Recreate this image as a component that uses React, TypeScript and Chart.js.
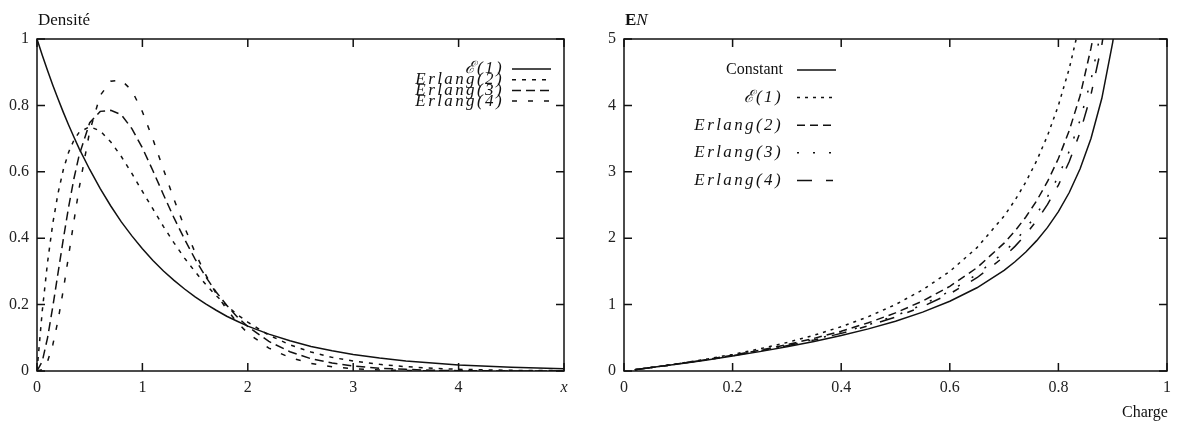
import React, { useEffect, useRef } from 'react';
import { Chart, registerables } from 'chart.js';

Chart.register(...registerables);

// ---------- Left panel: densities ----------
const densityX = [0, 0.05, 0.1, 0.15, 0.2, 0.25, 0.3, 0.35, 0.4, 0.5, 0.6, 0.7, 0.8, 0.9, 1.0, 1.1, 1.2, 1.3, 1.4, 1.5, 1.6, 1.7, 1.8, 1.9, 2.0, 2.2, 2.4, 2.6, 2.8, 3.0, 3.25, 3.5, 3.75, 4.0, 4.5, 5.0];
const densityExp = [1, 0.951, 0.905, 0.861, 0.819, 0.779, 0.741, 0.705, 0.67, 0.607, 0.549, 0.497, 0.449, 0.407, 0.368, 0.333, 0.301, 0.273, 0.247, 0.223, 0.202, 0.183, 0.165, 0.15, 0.135, 0.111, 0.091, 0.074, 0.061, 0.05, 0.039, 0.03, 0.024, 0.018, 0.011, 0.007];
const densityErlang2 = [0, 0.181, 0.327, 0.445, 0.536, 0.607, 0.659, 0.695, 0.719, 0.736, 0.723, 0.69, 0.646, 0.595, 0.541, 0.488, 0.435, 0.386, 0.34, 0.299, 0.261, 0.227, 0.197, 0.17, 0.147, 0.108, 0.079, 0.057, 0.041, 0.03, 0.02, 0.013, 0.008, 0.005, 0.002, 0.001];
const densityErlang3 = [0, 0.029, 0.1, 0.194, 0.296, 0.398, 0.494, 0.579, 0.65, 0.748, 0.782, 0.785, 0.772, 0.73, 0.672, 0.603, 0.531, 0.461, 0.397, 0.337, 0.284, 0.238, 0.198, 0.163, 0.134, 0.089, 0.058, 0.037, 0.024, 0.015, 0.008, 0.005, 0.002, 0.001, 0, 0];
const densityErlang4 = [0, 0.004, 0.029, 0.079, 0.153, 0.245, 0.347, 0.451, 0.551, 0.722, 0.83, 0.873, 0.876, 0.845, 0.781, 0.698, 0.607, 0.517, 0.433, 0.357, 0.29, 0.233, 0.186, 0.146, 0.114, 0.069, 0.04, 0.023, 0.013, 0.007, 0.003, 0.0015, 0.0007, 0.0003, 0, 0];
const densityLabels = ['ℰ(1)', 'Erlang(2)', 'Erlang(3)', 'Erlang(4)'];

// ---------- Right panel: mean number in system vs load ----------
const loadX = [0.02, 0.05, 0.1, 0.15, 0.2, 0.25, 0.3, 0.35, 0.4, 0.45, 0.5, 0.55, 0.6, 0.65, 0.7, 0.72, 0.74, 0.76, 0.78, 0.8, 0.82, 0.84, 0.86, 0.88, 0.9, 0.91];
const enConstant = [0.0202, 0.0513, 0.1056, 0.1632, 0.225, 0.2917, 0.3643, 0.4442, 0.5333, 0.6341, 0.75, 0.8861, 1.05, 1.2536, 1.5167, 1.6457, 1.7931, 1.9633, 2.1627, 2.4, 2.6878, 3.045, 3.5014, 4.1067, 4.95, 5.51];
const enExp = [0.0204, 0.0526, 0.1111, 0.1765, 0.25, 0.3333, 0.4286, 0.5385, 0.6667, 0.8182, 1.0, 1.2222, 1.5, 1.8571, 2.3333, 2.5714, 2.8462, 3.1667, 3.5455, 4.0, 4.5556, 5.25, null, null, null, null];
const enErlang2 = [0.0203, 0.052, 0.1083, 0.1699, 0.2375, 0.3125, 0.3964, 0.4913, 0.6, 0.7261, 0.875, 1.0542, 1.275, 1.5554, 1.925, 2.1086, 2.3196, 2.565, 2.8541, 3.2, 3.6217, 4.1475, 4.8621, 5.72, null, null];
const enErlang3 = [0.0203, 0.0518, 0.1074, 0.1676, 0.2333, 0.3056, 0.3857, 0.4756, 0.5778, 0.6955, 0.8333, 0.9981, 1.2, 1.4548, 1.7889, 1.9543, 2.1441, 2.3644, 2.6236, 2.9333, 3.3104, 3.78, 4.3819, 5.1822, null, null];
const enErlang4 = [0.0203, 0.0516, 0.1069, 0.1665, 0.2313, 0.3021, 0.3804, 0.4678, 0.5667, 0.6801, 0.8125, 0.9701, 1.1625, 1.4045, 1.7208, 1.8771, 2.0563, 2.2642, 2.5084, 2.8, 3.1547, 3.5963, 4.1618, 4.9133, 5.9625, null];
const enLabels = ['Constant', 'ℰ(1)', 'Erlang(2)', 'Erlang(3)', 'Erlang(4)'];

const FONT = "'Liberation Serif', 'DejaVu Serif', serif";
const INK = '#111';

const fmt = (v: number) => String(Math.round(v * 10) / 10);

const framePlugin = {
  id: 'frame',
  afterDatasetsDraw(chart: any, _args: any, o: any) {
    const { ctx, chartArea: a, scales } = chart;
    ctx.save();
    ctx.strokeStyle = INK;
    ctx.lineWidth = 1.5;
    ctx.setLineDash([]);
    ctx.strokeRect(a.left, a.top, a.right - a.left, a.bottom - a.top);
    const L = 8;
    ctx.beginPath();
    scales.x.ticks.forEach((t: any) => {
      const p = scales.x.getPixelForValue(t.value);
      ctx.moveTo(p, a.bottom); ctx.lineTo(p, a.bottom - L);
      ctx.moveTo(p, a.top); ctx.lineTo(p, a.top + L);
    });
    scales.y.ticks.forEach((t: any) => {
      const p = scales.y.getPixelForValue(t.value);
      ctx.moveTo(a.left, p); ctx.lineTo(a.left + L, p);
      ctx.moveTo(a.right, p); ctx.lineTo(a.right - L, p);
    });
    ctx.stroke();

    // legend (text right-aligned, line sample after it)
    const lg = o.legend;
    chart.data.datasets.forEach((ds: any, i: number) => {
      const y = lg.y0 + i * lg.dy;
      const italic = ds.label !== 'Constant';
      ctx.fillStyle = INK;
      ctx.font = `${italic ? 'italic ' : ''}${italic ? lg.size : lg.size - 1}px ${FONT}`;
      (ctx as any).letterSpacing = italic ? lg.spacing + 'px' : '0px';
      ctx.textAlign = 'right';
      ctx.textBaseline = 'middle';
      ctx.fillText(ds.label, lg.textRight, y);
      (ctx as any).letterSpacing = '0px';
      ctx.beginPath();
      ctx.setLineDash(ds.borderDash || []);
      ctx.lineWidth = 1.5;
      ctx.moveTo(lg.textRight + lg.gap, y);
      ctx.lineTo(lg.textRight + lg.gap + lg.lineW, y);
      ctx.stroke();
    });
    ctx.setLineDash([]);

    // titles
    (o.titles || []).forEach((t: any) => {
      let x = t.x;
      t.parts.forEach((p: any) => {
        ctx.font = `${p.style || ''} ${p.weight || ''} ${t.size}px ${FONT}`;
        ctx.fillStyle = INK;
        ctx.textAlign = 'left';
        ctx.textBaseline = 'middle';
        ctx.fillText(p.text, x, t.y);
        x += ctx.measureText(p.text).width;
      });
    });
    ctx.restore();
  },
};

function axisCommon() {
  return {
    type: 'linear',
    grid: { display: false, drawTicks: false },
    border: { display: false },
  };
}

function densityConfig(): any {
  const series = [densityExp, densityErlang2, densityErlang3, densityErlang4];
  const dashes = [[], [4, 6], [9, 5], [5, 11]];
  return {
    type: 'line',
    data: {
      datasets: series.map((s, i) => ({
        label: densityLabels[i],
        data: densityX.map((x, j) => ({ x, y: s[j] })),
        borderColor: INK,
        borderWidth: 1.5,
        borderDash: dashes[i],
        pointRadius: 0,
        tension: 0,
        fill: false,
      })),
    },
    options: {
      animation: false,
      responsive: false,
      devicePixelRatio: 1,
      layout: { padding: { left: 0, top: 39, right: 31, bottom: 0 } },
      plugins: {
        legend: { display: false },
        tooltip: { enabled: false },
        frame: {
          legend: { textRight: 504, y0: 69, dy: 10.7, gap: 8, lineW: 39, size: 17, spacing: 2.4 },
          titles: [{ x: 38, y: 21, size: 17, parts: [{ text: 'Densité' }] }],
        },
      },
      scales: {
        x: {
          ...axisCommon(),
          min: 0,
          max: 5,
          afterFit: (s: any) => { s.height = 52; },
          ticks: {
            stepSize: 1,
            autoSkip: false,
            maxRotation: 0,
            padding: 7,
            color: '#222',
            font: (c: any) => ({ family: FONT, size: 16, style: c.tick && c.tick.value === 5 ? 'italic' : 'normal' }),
            callback: (v: number) => (v === 5 ? 'x' : fmt(v)),
          },
        },
        y: {
          ...axisCommon(),
          min: 0,
          max: 1,
          afterFit: (s: any) => { s.width = 37; },
          ticks: { stepSize: 0.2, padding: 8, color: '#222', font: { family: FONT, size: 16 }, callback: (v: number) => fmt(v) },
        },
      },
    },
    plugins: [framePlugin],
  };
}

function loadConfig(): any {
  const series = [enConstant, enExp, enErlang2, enErlang3, enErlang4];
  const dashes = [[], [3, 5], [8, 5], [2, 14], [15, 14, 7, 14]];
  return {
    type: 'line',
    data: {
      datasets: series.map((s, i) => ({
        label: enLabels[i],
        data: loadX.map((x, j) => ({ x, y: s[j] })),
        borderColor: INK,
        borderWidth: 1.5,
        borderDash: dashes[i],
        pointRadius: 0,
        tension: 0,
        fill: false,
        spanGaps: false,
      })),
    },
    options: {
      animation: false,
      responsive: false,
      devicePixelRatio: 1,
      layout: { padding: { left: 0, top: 39, right: 14, bottom: 0 } },
      plugins: {
        legend: { display: false },
        tooltip: { enabled: false },
        frame: {
          legend: { textRight: 188, y0: 70, dy: 27.6, gap: 14, lineW: 39, size: 17, spacing: 2.4 },
          titles: [
            { x: 30, y: 21, size: 17, parts: [{ text: 'E', weight: 'bold' }, { text: 'N', style: 'italic' }] },
            { x: 527, y: 413, size: 16, parts: [{ text: 'Charge' }] },
          ],
        },
      },
      scales: {
        x: {
          ...axisCommon(),
          min: 0,
          max: 1,
          afterFit: (s: any) => { s.height = 52; },
          ticks: { stepSize: 0.2, autoSkip: false, maxRotation: 0, padding: 7, color: '#222', font: { family: FONT, size: 16 }, callback: (v: number) => fmt(v) },
        },
        y: {
          ...axisCommon(),
          min: 0,
          max: 5,
          afterFit: (s: any) => { s.width = 29; },
          ticks: { stepSize: 1, padding: 8, color: '#222', font: { family: FONT, size: 16 }, callback: (v: number) => fmt(v) },
        },
      },
    },
    plugins: [framePlugin],
  };
}

function Plot({ make, left, width }: { make: () => any; left: number; width: number }) {
  const ref = useRef<HTMLCanvasElement | null>(null);
  useEffect(() => {
    const chart = new Chart(ref.current as HTMLCanvasElement, make());
    return () => chart.destroy();
  }, []);
  return (
    <canvas
      ref={ref}
      width={width}
      height={423}
      style={{ position: 'absolute', left, top: 0, width, height: 423 }}
    />
  );
}

export default function App() {
  return (
    <div style={{ position: 'absolute', left: 0, top: 0, width: 1181, height: 423, background: '#fff', overflow: 'hidden' }}>
      <Plot make={densityConfig} left={0} width={595} />
      <Plot make={loadConfig} left={595} width={586} />
    </div>
  );
}
